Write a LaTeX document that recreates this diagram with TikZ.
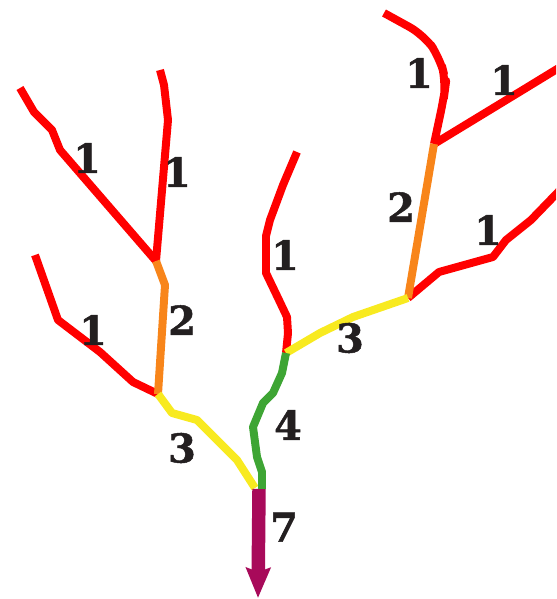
\documentclass[tikz,border=0pt]{standalone}
\usepackage{fontspec}
\setmainfont{DejaVu Serif}
\newfontfamily\lblfont{DejaVu Serif Bold}[FakeBold=1.2]
\usetikzlibrary{arrows.meta}
\definecolor{order1}{RGB}{255,0,0}
\definecolor{order2}{RGB}{248,133,26}
\definecolor{order3}{RGB}{248,234,32}
\definecolor{order4}{RGB}{62,165,52}
\definecolor{order7}{RGB}{168,10,90}
\definecolor{labelink}{RGB}{35,31,32}
\begin{document}
\begin{tikzpicture}[
  x=0.03cm,y=-0.03cm,
  seg/.style={line width=6.8pt,line join=round},
  redseg/.style={seg,draw=order1},
  orangeseg/.style={seg,draw=order2},
  yellowseg/.style={seg,draw=order3},
  greenseg/.style={seg,draw=order4},
  outlet/.style={line width=11.5pt,draw=order7,
                 -{Stealth[length=0.9cm,width=0.72cm,inset=0.12cm]}},
  lbl/.style={font=\fontsize{34}{34}\lblfont,text=labelink,inner sep=0pt}
]
\useasboundingbox (0,0) rectangle (556,599);
\clip (0,0) rectangle (556,599);

% junctions
\coordinate (jA) at (156,261);
\coordinate (jB) at (158,394);
\coordinate (jC) at (286,353);
\coordinate (jD) at (408,298);
\coordinate (jE) at (434,144);
\coordinate (mouth) at (259,489);
\coordinate (sea) at (258,598);

% sources
\coordinate (s1) at (20,88);
\coordinate (s2) at (160,70);
\coordinate (s3) at (35,255);
\coordinate (s4) at (297,152);
\coordinate (s5) at (384,13);
\coordinate (s6) at (562,66);
\coordinate (s7) at (562,188);

% first order streams
\draw[redseg] (s1) -- (34,112) -- (52,130) -- (60,150) -- (jA);
\draw[redseg] (s2) -- (164,85) -- (168,120) -- (jA);
\draw[redseg] (s3) -- (58,320) -- (100,352) -- (133,382) -- (jB);
\draw[redseg] (s4) -- (283,185) -- (270,220) -- (266,236) -- (266,273)
  -- (278,298) -- (287,317) -- (288,333) -- (jC);
\draw[redseg,rounded corners=14] (s5) -- (424,35) -- (440,58) -- (446,82) -- (444,97) -- (jE);
\draw[redseg] (jE) -- (526,88) -- (s6);
\draw[redseg] (jD) -- (439,272) -- (493,257) -- (506,240) -- (531,220) -- (s7);

% second order
\draw[orangeseg] (jA) -- (165,285) -- (jB);
\draw[orangeseg] (jE) -- (jD);

% third order
\draw[yellowseg] (jB) -- (172,413) -- (197,420) -- (210,433) -- (237,460) -- (255,488);
\draw[yellowseg] (jC) -- (320,333) -- (353,317) -- (jD);

% fourth order
\draw[greenseg] (jC) -- (282,373) -- (273,393) -- (263,403) -- (253,427)
  -- (257,457) -- (262,472) -- (262,489);

% outlet
\draw[outlet] (mouth) -- (sea);

% labels
\node[lbl] (n1a) at (87,158) {1};
\node[lbl] (n1b) at (177,172) {1};
\node[lbl] (n1c) at (93,330) {1};
\node[lbl] (n2a) at (182,320) {2};
\node[lbl] (n3a) at (182,448) {3};
\node[lbl] (n1d) at (285,255) {1};
\node[lbl] (n4) at (288,425) {4};
\node[lbl] (n3b) at (350,338) {3};
\node[lbl] (n7) at (284,527) {7};
\node[lbl] (n1e) at (419,73) {1};
\node[lbl] (n1f) at (504,80) {1};
\node[lbl] (n2b) at (401,207) {2};
\node[lbl] (n1g) at (488,230) {1};
\end{tikzpicture}
\end{document}
